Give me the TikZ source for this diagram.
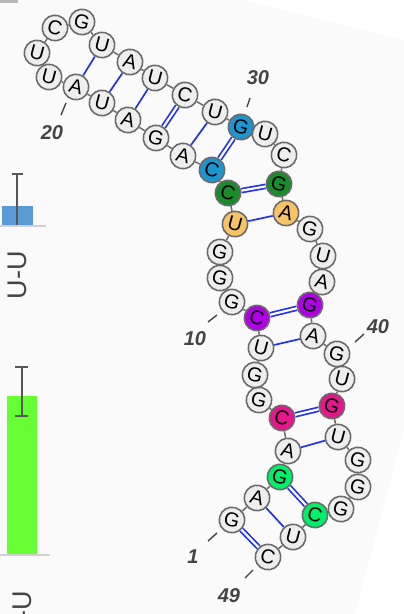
\documentclass[tikz,border=0pt]{standalone}
\usepackage{fontspec}
\setmainfont{Liberation Sans}
\usepackage{tikz}

\definecolor{bgpanel}{HTML}{FAFAFA}
\definecolor{ntfill}{HTML}{EEEEEE}
\definecolor{ntborder}{HTML}{6B6B6B}
\definecolor{pairblue}{HTML}{2233EE}
\definecolor{cblue}{HTML}{1D96CF}
\definecolor{cdkgreen}{HTML}{1A8C2C}
\definecolor{corange}{HTML}{F7C465}
\definecolor{cpurple}{HTML}{B100E6}
\definecolor{cmagenta}{HTML}{E5178C}
\definecolor{cgreen}{HTML}{00EF6A}
\definecolor{numgray}{HTML}{444444}
\definecolor{barblue}{HTML}{5B9BD5}
\definecolor{bargreen}{HTML}{66FF33}

\tikzset{
  nt/.style={circle, draw=ntborder, line width=1.6pt, fill=ntfill,
    minimum size=25.5pt, inner sep=0pt, rotate=-15,
    font=\fontsize{20}{20}\selectfont},
  ntblue/.style={nt, fill=cblue},
  ntdkgreen/.style={nt, fill=cdkgreen},
  ntorange/.style={nt, fill=corange},
  ntpurple/.style={nt, fill=cpurple},
  ntmagenta/.style={nt, fill=cmagenta},
  ntgreen/.style={nt, fill=cgreen},
  backbone/.style={draw=ntborder, line width=1.5pt},
  aupair/.style={draw=pairblue, line width=1.7pt},
  gcpair/.style={draw=pairblue, line width=1.7pt, double=bgpanel, double distance=2.2pt},
  numlabel/.style={text=numgray, font=\fontsize{20}{20}\selectfont\bfseries\itshape},
  numtick/.style={draw=numgray, line width=1.4pt},
  barlabel/.style={text=numgray, rotate=90, font=\fontsize{27}{27}\selectfont},
  errbar/.style={draw=numgray!90, line width=1.5pt},
  axisline/.style={draw=black!18, line width=1.6pt}
}

\begin{document}
\begin{tikzpicture}[x=1pt, y=-1pt]
      \useasboundingbox (0,0) rectangle (404,614);
      \clip (0,0) rectangle (404,614);
      %% background
      \fill[white] (0,0) rectangle (404,614);
      \fill[bgpanel] (244,0) -- (404,40) -- (404,429) -- (355,614) -- (0,614) -- (0,0) -- cycle;
      \fill[black!27] (0,0) rectangle (18,2.5);
      %% bar chart
      \fill[barblue] (2,206) rectangle (33,226);
      \draw[axisline] (0,226) -- (46,226);
      \draw[errbar] (17,225) -- (17,174) (12,174) -- (23,174);
      \node[barlabel] (uu1) at (17.5,275) {U-U};
      \fill[bargreen] (7,396) rectangle (37,555);
      \draw[axisline] (0,555) -- (50,555);
      \draw[errbar] (22,367) -- (22,416) (15,367) -- (28,367) (15,416) -- (28,416);
      \node[barlabel] (uu2) at (22,615) {U-U};
      %% nucleotides
      \node[nt] (n1) at (232,520) {G};
      \node[nt] (n2) at (257,498) {A};
      \node[ntgreen] (n3) at (280,477) {G};
      \node[nt] (n4) at (288,451) {A};
      \node[ntmagenta] (n5) at (282,418) {C};
      \node[nt] (n6) at (259,400) {G};
      \node[nt] (n7) at (255,375) {G};
      \node[nt] (n8) at (261,348) {U};
      \node[ntpurple] (n9) at (257,318) {C};
      \node[nt] (n10) at (232,302) {G};
      \node[nt] (n11) at (220,278) {G};
      \node[nt] (n12) at (220,252) {G};
      \node[ntorange] (n13) at (235,224) {U};
      \node[ntdkgreen] (n14) at (228,193) {C};
      \node[ntblue] (n15) at (212,170) {C};
      \node[nt] (n16) at (183,156) {A};
      \node[nt] (n17) at (156,138) {G};
      \node[nt] (n18) at (128,120) {A};
      \node[nt] (n19) at (102,103) {U};
      \node[nt] (n20) at (76,87) {A};
      \node[nt] (n21) at (49,77) {U};
      \node[nt] (n22) at (37,53) {U};
      \node[nt] (n23) at (55,28) {C};
      \node[nt] (n24) at (82,22) {G};
      \node[nt] (n25) at (102,45) {U};
      \node[nt] (n26) at (130,62) {A};
      \node[nt] (n27) at (155,78) {U};
      \node[nt] (n28) at (185,95) {C};
      \node[nt] (n29) at (215,112) {U};
      \node[ntblue] (n30) at (241,127) {G};
      \node[nt] (n31) at (265,134) {U};
      \node[nt] (n32) at (284,155) {C};
      \node[ntdkgreen] (n33) at (279,184) {G};
      \node[ntorange] (n34) at (286,213) {A};
      \node[nt] (n35) at (310,229) {G};
      \node[nt] (n36) at (323,256) {U};
      \node[nt] (n37) at (322,282) {A};
      \node[ntpurple] (n38) at (310,305) {G};
      \node[nt] (n39) at (313,336) {A};
      \node[nt] (n40) at (337,354) {G};
      \node[nt] (n41) at (342,379) {U};
      \node[ntmagenta] (n42) at (332,406) {G};
      \node[nt] (n43) at (338,437) {U};
      \node[nt] (n44) at (358,460) {G};
      \node[nt] (n45) at (358,487) {G};
      \node[nt] (n46) at (341,509) {G};
      \node[ntgreen] (n47) at (315,515) {C};
      \node[nt] (n48) at (293,537) {U};
      \node[nt] (n49) at (268,557) {C};
      %% backbone
      \draw[backbone] (n1) -- (n2) -- (n3) -- (n4) -- (n5) -- (n6) -- (n7) -- (n8) -- (n9) -- (n10);
      \draw[backbone] (n10) -- (n11) -- (n12) -- (n13) -- (n14) -- (n15) -- (n16) -- (n17) -- (n18) -- (n19) -- (n20);
      \draw[backbone] (n20) -- (n21) -- (n22) -- (n23) -- (n24) -- (n25) -- (n26) -- (n27) -- (n28) -- (n29) -- (n30);
      \draw[backbone] (n30) -- (n31) -- (n32) -- (n33) -- (n34) -- (n35) -- (n36) -- (n37) -- (n38) -- (n39) -- (n40);
      \draw[backbone] (n40) -- (n41) -- (n42) -- (n43) -- (n44) -- (n45) -- (n46) -- (n47) -- (n48) -- (n49);
      %% base pairs
      \draw[gcpair] (n1) -- (n49);
      \draw[aupair] (n2) -- (n48);
      \draw[gcpair] (n3) -- (n47);
      \draw[aupair] (n4) -- (n43);
      \draw[gcpair] (n5) -- (n42);
      \draw[aupair] (n8) -- (n39);
      \draw[gcpair] (n9) -- (n38);
      \draw[aupair] (n13) -- (n34);
      \draw[gcpair] (n14) -- (n33);
      \draw[gcpair] (n15) -- (n30);
      \draw[aupair] (n16) -- (n29);
      \draw[gcpair] (n17) -- (n28);
      \draw[aupair] (n18) -- (n27);
      \draw[aupair] (n19) -- (n26);
      \draw[aupair] (n20) -- (n25);
      %% numbering
      \coordinate (t20a) at (66,103); \coordinate (t20b) at (61,115);
      \draw[numtick] (t20a) -- (t20b);
      \node[numlabel] (l20) at (52,133) {20};
      \coordinate (t30a) at (250,98); \coordinate (t30b) at (247,107);
      \draw[numtick] (t30a) -- (t30b);
      \node[numlabel] (l30) at (258,78) {30};
      \coordinate (t10a) at (217,315); \coordinate (t10b) at (208,322);
      \draw[numtick] (t10a) -- (t10b);
      \node[numlabel] (l10) at (195,339) {10};
      \coordinate (t40a) at (364,334); \coordinate (t40b) at (355,342);
      \draw[numtick] (t40a) -- (t40b);
      \node[numlabel] (l40) at (378,327) {40};
      \coordinate (t1a) at (217,533); \coordinate (t1b) at (208,541);
      \draw[numtick] (t1a) -- (t1b);
      \node[numlabel] (l1) at (193,557) {1};
      \coordinate (t49a) at (253,570); \coordinate (t49b) at (245,578);
      \draw[numtick] (t49a) -- (t49b);
      \node[numlabel] (l49) at (229,596) {49};
    \end{tikzpicture}
\end{document}
